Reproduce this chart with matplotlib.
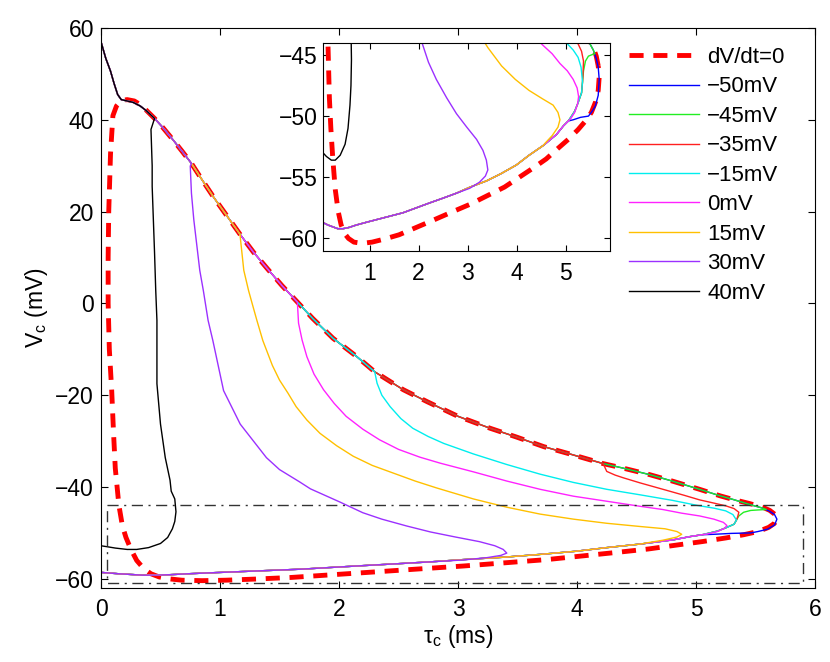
import numpy as np
import matplotlib.pyplot as plt

plt.rcParams['font.family'] = ['Liberation Sans', 'DejaVu Sans']
plt.rcParams['mathtext.fontset'] = 'custom'
plt.rcParams['mathtext.rm'] = 'Liberation Sans'
plt.rcParams['mathtext.it'] = 'Liberation Sans:italic'

# dV/dt = 0 nullcline (closed loop), tau_c in ms, V_c in mV
null_tau = np.array([5.66, 5.62, 5.56, 5.45, 5.31, 5.20, 5.03, 4.80, 4.61, 4.39, 4.22, 3.94, 3.72,
                     3.49, 3.27, 3.00, 2.74, 2.54, 2.30, 2.15, 1.95, 1.78, 1.65, 1.52, 1.40, 1.28,
                     1.17, 1.06, 0.95, 0.85, 0.76, 0.68, 0.60, 0.52, 0.45, 0.38, 0.33, 0.28, 0.22,
                     0.17, 0.13, 0.10, 0.08, 0.065, 0.06, 0.06, 0.07, 0.09, 0.105, 0.12, 0.15,
                     0.18, 0.21, 0.25, 0.30, 0.36, 0.42, 0.49, 0.57, 0.68, 0.85, 1.05, 1.30, 1.60,
                     1.95, 2.30, 2.70, 3.05, 3.40, 3.75, 4.05, 4.35, 4.60, 4.85, 5.05, 5.25, 5.40,
                     5.52, 5.61, 5.66, 5.68, 5.66])
null_v = np.array([-45.9, -45.1, -44.4, -43.6, -42.7, -41.9, -40.5, -38.7, -37.3, -35.9, -34.9,
                   -32.8, -31.2, -29.1, -27.2, -24.6, -21.4, -18.8, -14.9, -11.6, -7.6, -3.3, 0.3,
                   3.9, 7.5, 11.2, 15.0, 19.0, 23.0, 26.9, 30.5, 33.2, 35.8, 38.3, 40.3, 42.1, 43.3,
                   44.1, 44.4, 44.2, 43.0, 40.9, 32.6, 20.0, 10.0, 0.0, -10.0, -19.0, -28.0, -35.9,
                   -43.9, -48.5, -51.0, -53.5, -56.0, -57.8, -58.9, -59.6, -60.0, -60.3, -60.4,
                   -60.3, -60.05, -59.7, -59.1, -58.5, -57.8, -57.2, -56.5, -55.8, -55.0, -54.2,
                   -53.5, -52.6, -51.9, -51.1, -50.4, -49.7, -48.8, -47.9, -46.8, -45.9])

# path shared by all traces: start at (0, 57) and run down the upper branch
upper_tau = np.array([0.0, 0.01, 0.04, 0.08, 0.11, 0.14, 0.17, 0.22, 0.27, 0.33, 0.38, 0.45, 0.52,
                      0.60, 0.68, 0.76, 0.85, 0.95, 1.06, 1.17, 1.28, 1.40, 1.52, 1.65, 1.78, 1.95,
                      2.15, 2.30, 2.54, 2.74, 3.00, 3.27, 3.49, 3.72, 3.94, 4.22, 4.39, 4.61, 4.80,
                      5.03, 5.20, 5.31, 5.45, 5.56, 5.62])
upper_v = np.array([57.0, 56.1, 53.4, 50.6, 47.9, 45.5, 44.4, 44.1, 43.8, 43.0, 42.0, 40.3, 38.3,
                    35.8, 33.2, 30.5, 26.9, 23.0, 19.0, 15.0, 11.2, 7.5, 3.9, 0.3, -3.3, -7.6,
                    -11.6, -14.9, -18.8, -21.4, -24.6, -27.2, -29.1, -31.2, -32.8, -34.9, -35.9,
                    -37.3, -38.7, -40.5, -41.9, -42.7, -43.8, -44.6, -45.3])

# shared return path along the bottom
lower_tau = np.array([5.05, 4.95, 4.81, 4.54, 4.25, 3.99, 3.68, 3.38, 3.05, 2.77, 2.50, 2.22, 1.95,
                      1.68, 1.44, 1.20, 0.96, 0.73, 0.58, 0.46, 0.35, 0.25, 0.15, 0.05, 0.0])
lower_v = np.array([-50.4, -50.8, -51.5, -52.4, -53.2, -54.0, -54.7, -55.3, -55.8, -56.3, -56.7,
                    -57.1, -57.5, -57.9, -58.15, -58.4, -58.65, -58.9, -59.1, -59.2, -59.2, -59.05,
                    -58.9, -58.7, -58.6])

# part of each trace after it leaves the upper branch
blue_tau = np.array([5.66, 5.68, 5.66, 5.60, 5.52, 5.46, 5.30, 5.15])
blue_v = np.array([-46.0, -47.0, -48.3, -49.2, -49.7, -50.0, -50.1, -50.3])
green_tau = np.array([5.59, 5.52, 5.46, 5.40, 5.36, 5.34, 5.32, 5.25, 5.18, 5.10])
green_v = np.array([-44.9, -45.0, -45.1, -45.5, -46.3, -47.2, -48.1, -48.9, -49.6, -50.1])
red_tau = np.array([4.25, 4.32, 4.39, 4.53, 4.75, 4.90, 5.03, 5.15, 5.25, 5.32, 5.36, 5.35, 5.34,
                    5.32, 5.25, 5.18, 5.10])
red_v = np.array([-36.6, -37.4, -38.0, -39.1, -40.7, -41.8, -42.8, -43.5, -44.1, -44.7, -45.5,
                  -46.5, -47.2, -48.1, -48.9, -49.6, -50.1])
cyan_tau = np.array([2.32, 2.36, 2.43, 2.52, 2.62, 2.75, 2.88, 3.13, 3.41, 3.69, 3.97, 4.25, 4.53,
                     4.80, 5.01, 5.15, 5.25, 5.31, 5.34, 5.32, 5.25, 5.18, 5.10])
cyan_v = np.array([-17.4, -20.0, -22.5, -25.1, -27.2, -29.0, -30.5, -32.8, -35.1, -37.2, -39.0,
                   -40.5, -41.7, -42.9, -44.0, -44.6, -45.2, -46.0, -47.2, -48.1, -48.9, -49.6,
                   -50.1])
mag_tau = np.array([1.66, 1.69, 1.73, 1.79, 1.87, 1.96, 2.06, 2.20, 2.34, 2.50, 2.68, 2.85, 3.13,
                    3.41, 3.69, 3.97, 4.25, 4.53, 4.72, 4.88, 5.03, 5.15, 5.23, 5.26, 5.24, 5.18,
                    5.10])
mag_v = np.array([-4.3, -8.0, -11.6, -15.4, -18.8, -21.8, -24.6, -27.4, -29.7, -31.8, -33.5, -34.8,
                  -36.7, -38.7, -40.5, -42.0, -43.1, -44.2, -44.9, -45.7, -46.3, -47.0, -47.7,
                  -48.4, -49.0, -49.7, -50.2])
yel_tau = np.array([1.17, 1.20, 1.24, 1.27, 1.31, 1.36, 1.44, 1.50, 1.57, 1.64, 1.73, 1.84, 1.98,
                    2.12, 2.28, 2.46, 2.64, 2.82, 3.13, 3.41, 3.69, 3.97, 4.25, 4.53, 4.74, 4.84,
                    4.88, 4.84, 4.72, 4.58])
yel_v = np.array([14.5, 7.2, 2.8, 0.0, -3.7, -8.1, -13.5, -16.7, -19.5, -22.5, -25.4, -28.3, -31.0,
                  -33.3, -35.3, -37.0, -38.7, -40.2, -42.6, -44.4, -45.9, -47.0, -47.9, -48.6,
                  -49.1, -49.7, -50.3, -50.9, -51.6, -52.2])
pur_tau = np.array([0.75, 0.76, 0.78, 0.83, 0.86, 0.90, 0.94, 1.03, 1.17, 1.39, 1.50, 1.67, 1.76,
                    2.01, 2.20, 2.36, 2.57, 2.77, 2.98, 3.18, 3.31, 3.38, 3.41, 3.36, 3.24, 3.04])
pur_v = np.array([29.9, 24.0, 18.2, 7.2, 2.8, -3.7, -8.1, -19.0, -26.3, -33.6, -36.2, -38.9, -40.4,
                  -43.3, -45.6, -47.0, -48.5, -49.8, -50.9, -51.9, -52.8, -53.6, -54.4, -54.9,
                  -55.4, -55.9])
blk_tau = np.array([0.42, 0.43, 0.43, 0.45, 0.46, 0.47, 0.47, 0.50, 0.54, 0.58, 0.59, 0.62, 0.63,
                    0.62, 0.60, 0.56, 0.50, 0.40, 0.30, 0.22, 0.12, 0.05, 0.0])
blk_v = np.array([37.9, 30.0, 25.5, 11.0, 2.8, -3.7, -17.5, -26.3, -33.6, -38.5, -40.9, -42.6, -45.4,
                  -47.5, -49.1, -51.0, -52.3, -53.2, -53.6, -53.6, -53.3, -53.0, -52.8])

holds = [-50, -45, -35, -15, 0, 15, 30, 40]
labels = ['\u221250mV', '\u221245mV', '\u221235mV', '\u221215mV', '0mV', '15mV', '30mV', '40mV']
colors = ['#0000ff', '#22ee22', '#ff2020', '#00eeee', '#ff22ff', '#ffc000', '#9b30ff', '#000000']
tails = [(blue_tau, blue_v), (green_tau, green_v), (red_tau, red_v), (cyan_tau, cyan_v),
         (mag_tau, mag_v), (yel_tau, yel_v), (pur_tau, pur_v), (blk_tau, blk_v)]

# zoom box
box_tau = [0.05, 5.9]
box_v = [-61, -44]


def trace(hold, tt, tv):
    keep = upper_v >= hold
    back = lower_tau < tt[-1]
    t = np.concatenate([upper_tau[keep], tt, lower_tau[back]])
    v = np.concatenate([upper_v[keep], tv, lower_v[back]])
    return t, v


def draw(ax):
    ax.plot(null_tau, null_v, color='#ff0000', lw=3.5, ls=(0, (2.9, 2.0)), label='dV/dt=0')
    for h, (tt, tv), c, lab in zip(holds, tails, colors, labels):
        t, v = trace(h, tt, tv)
        ax.plot(t, v, color=c, lw=1.0, label=lab)


W, H = 830, 662
fig = plt.figure(figsize=(8.3, 6.62), dpi=100)
ax = fig.add_axes([101 / W, 1 - 588 / H, 714 / W, 560 / H])
draw(ax)
bx = [box_tau[0], box_tau[1], box_tau[1], box_tau[0], box_tau[0]]
by = [box_v[1], box_v[1], box_v[0], box_v[0], box_v[1]]
ax.plot(bx, by, color='0.2', lw=1.0, ls=(0, (8, 4, 1.5, 4)))
ax.set_xlim(0, 6)
ax.set_ylim(-62, 60)
ax.set_xticks([0, 1, 2, 3, 4, 5, 6])
ax.set_yticks([-60, -40, -20, 0, 20, 40, 60])
ax.tick_params(direction='in', top=True, right=True, length=5, width=0.8, labelsize=16.5)
ax.tick_params(axis='x', pad=7)
ax.tick_params(axis='y', pad=5)
ax.set_xlabel(r'τ$_\mathrm{c}$ (ms)', fontsize=16.5, labelpad=2)
ax.set_ylabel(r'V$_\mathrm{c}$ (mV)', fontsize=16.5, labelpad=4)
ax.legend(loc='upper left', bbox_to_anchor=(629 / W, 1 - 47 / H), bbox_transform=fig.transFigure,
          frameon=False, borderpad=0, borderaxespad=0, handlelength=3.15, handletextpad=0.36,
          labelspacing=0.38, fontsize=16)

axi = fig.add_axes([323 / W, 1 - 250.7 / H, 287 / W, 208 / H])
draw(axi)
axi.set_xlim(box_tau)
axi.set_ylim(box_v)
axi.set_xticks([1, 2, 3, 4, 5])
axi.set_yticks([-60, -55, -50, -45])
axi.tick_params(direction='in', top=True, right=True, length=4, width=0.8, labelsize=16.5)
axi.tick_params(axis='x', pad=8)
axi.tick_params(axis='y', pad=4)

fig.savefig('out.png', dpi=100)
